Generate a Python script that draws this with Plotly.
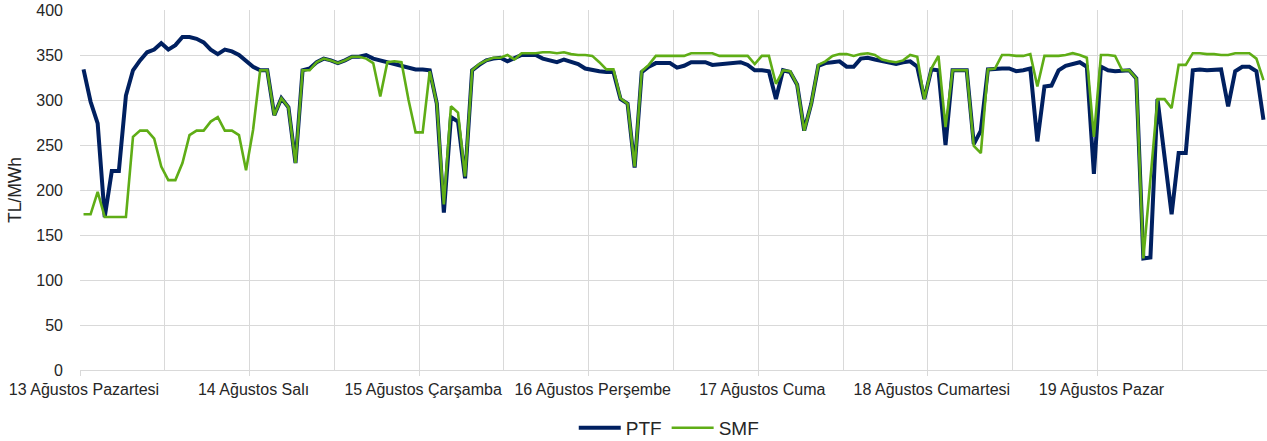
import plotly.graph_objects as go

day_labels = ["13 Ağustos Pazartesi", "14 Ağustos Salı", "15 Ağustos Çarşamba",
              "16 Ağustos Perşembe", "17 Ağustos Cuma", "18 Ağustos Cumartesi",
              "19 Ağustos Pazar"]

# Hourly PTF (TL/MWh), one list per day
ptf_13 = [334, 298, 274, 170, 221, 221, 305, 333, 344, 353, 356, 363, 356, 361, 370, 370, 368, 364, 356, 351, 356, 354, 350, 343]
ptf_14 = [337, 333, 333, 283, 302, 292, 230, 333, 335, 342, 346, 344, 341, 344, 348, 348, 350, 346, 344, 341, 339, 337, 335, 334]
ptf_15 = [334, 333, 296, 175, 281, 276, 213, 333, 339, 344, 346, 347, 343, 346, 350, 350, 350, 346, 344, 342, 345, 343, 340, 335]
ptf_16 = [333, 332, 331, 331, 301, 296, 225, 331, 337, 341, 341, 341, 336, 338, 342, 342, 342, 339, 340, 340, 341, 342, 339, 333]
ptf_17 = [333, 332, 301, 333, 331, 317, 266, 296, 338, 341, 342, 343, 337, 337, 346, 347, 345, 343, 341, 340, 342, 343, 337, 301]
ptf_18 = [334, 333, 250, 333, 333, 333, 251, 266, 334, 335, 335, 335, 332, 333, 335, 254, 315, 316, 333, 338, 340, 342, 337, 218]
ptf_19 = [337, 333, 332, 333, 333, 324, 124, 125, 301, 237, 173, 241, 241, 333, 334, 333, 334, 334, 293, 332, 337, 337, 332, 278]

# Hourly SMF (TL/MWh), one list per day
smf_13 = [173, 173, 198, 170, 170, 170, 170, 259, 266, 266, 257, 226, 211, 211, 230, 261, 266, 266, 276, 281, 266, 266, 261, 222]
smf_14 = [267, 333, 333, 283, 302, 292, 230, 333, 333, 342, 346, 344, 341, 344, 348, 348, 346, 341, 304, 342, 343, 342, 300, 264]
smf_15 = [264, 332, 296, 184, 293, 286, 215, 333, 340, 344, 347, 347, 350, 345, 352, 352, 352, 353, 353, 352, 353, 351, 350, 350]
smf_16 = [349, 342, 334, 334, 302, 296, 226, 332, 339, 349, 349, 349, 349, 349, 352, 352, 352, 352, 349, 349, 349, 349, 349, 340]
smf_17 = [349, 349, 318, 333, 332, 317, 266, 296, 339, 343, 349, 351, 351, 349, 351, 352, 350, 345, 343, 342, 344, 350, 348, 301]
smf_18 = [335, 349, 270, 333, 333, 333, 249, 241, 334, 335, 350, 350, 349, 349, 351, 315, 349, 349, 349, 350, 352, 350, 347, 259]
smf_19 = [350, 350, 349, 333, 333, 324, 124, 212, 301, 301, 291, 339, 339, 352, 352, 351, 351, 350, 350, 352, 352, 352, 346, 322]

ptf = ptf_13 + ptf_14 + ptf_15 + ptf_16 + ptf_17 + ptf_18 + ptf_19
smf = smf_13 + smf_14 + smf_15 + smf_16 + smf_17 + smf_18 + smf_19
hours = list(range(len(ptf)))
n_days = len(day_labels)

FONT = "Liberation Sans, Arial, sans-serif"
GRID = "#d9d9d9"
TEXT = "#262626"

fig = go.Figure()
fig.add_trace(go.Scatter(x=hours, y=ptf, mode="lines", name="PTF",
                         line=dict(color="#002060", width=4)))
fig.add_trace(go.Scatter(x=hours, y=smf, mode="lines", name="SMF",
                         line=dict(color="#5FAD16", width=2.6)))

day_starts = [24 * d - 0.5 for d in range(n_days)]

fig.update_layout(
    width=1267, height=441,
    margin=dict(l=80, r=0, t=10, b=71, autoexpand=False),
    paper_bgcolor="white", plot_bgcolor="white",
    font=dict(family=FONT, size=16, color=TEXT),
    showlegend=True,
    legend=dict(orientation="h", x=0.496, xanchor="center", y=-0.161, yanchor="middle",
                font=dict(family=FONT, size=19, color=TEXT),
                itemwidth=42, tracegroupgap=0, bgcolor="rgba(0,0,0,0)"),
    xaxis=dict(
        range=[-0.5, len(hours) - 0.5],
        tickmode="array", tickvals=day_starts, ticktext=day_labels,
        ticks="outside", ticklen=5, tickcolor=GRID, tickwidth=1,
        ticklabelshift=4,
        showgrid=True, gridcolor=GRID, gridwidth=1,
        minor=dict(tick0=-0.5, dtick=12, showgrid=True, gridcolor=GRID, gridwidth=1, ticks=""),
        showline=True, linecolor=GRID, linewidth=1,
        zeroline=False, tickfont=dict(family=FONT, size=16, color=TEXT),
    ),
    yaxis=dict(
        range=[0, 400], dtick=50, tick0=0,
        showgrid=True, gridcolor=GRID, gridwidth=1,
        zeroline=False, showline=False, ticks="",
        ticklabelstandoff=16, ticklabeloverflow="allow",
        tickfont=dict(family=FONT, size=16, color=TEXT),
        title=dict(text="TL/MWh", font=dict(family=FONT, size=17.5, color=TEXT), standoff=10),
    ),
)

# remove the browser's default 8px body margin so the figure sits at the page origin
fig.write_html("out.html", config={"displayModeBar": False},
               post_script="document.body.style.margin='0px';")
